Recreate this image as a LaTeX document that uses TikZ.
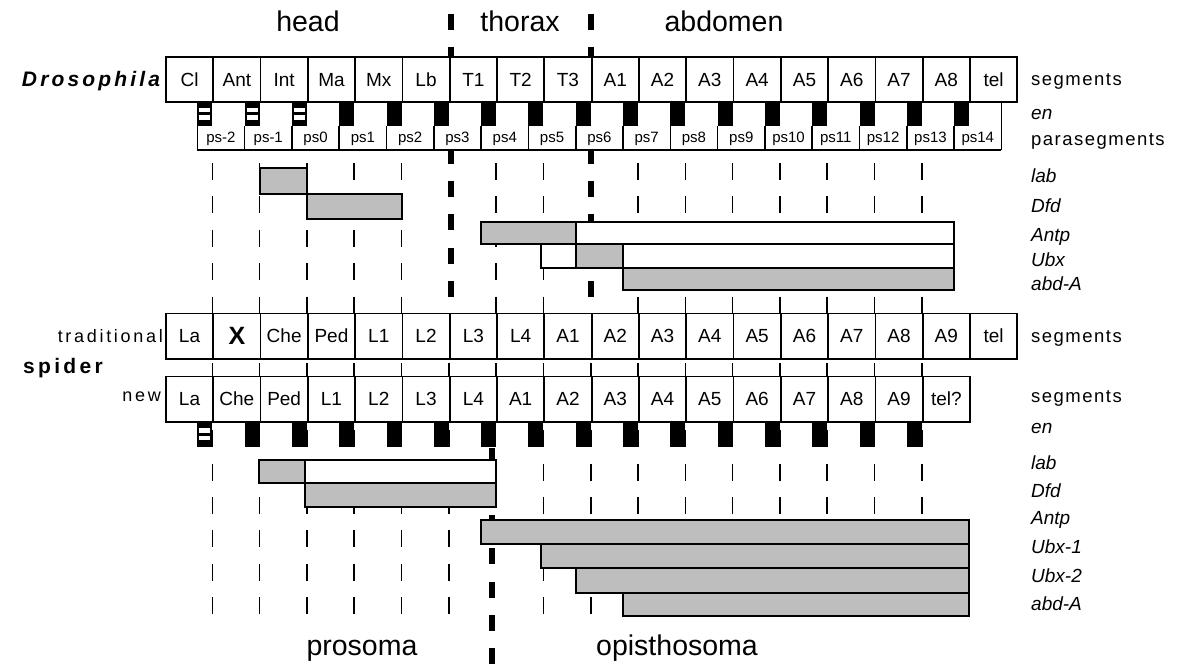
\documentclass[tikz,border=0pt]{standalone}
\usepackage{fontspec}
\setmainfont{Liberation Sans}
\newfontfamily\spacedfont[LetterSpace=15]{Liberation Sans}
\newfontfamily\rfont[LetterSpace=8]{Liberation Sans}
\newfontfamily\widefont[LetterSpace=16]{Liberation Sans}
\newfontfamily\drosfont[LetterSpace=15]{Liberation Sans}
\definecolor{stip}{RGB}{190,190,190}
\begin{document}
\begin{tikzpicture}[x=1pt,y=-1pt,
  segbox/.style={draw,line width=1.8pt,fill=white,minimum width=47.3pt,minimum height=45.5pt,inner sep=0pt,anchor=north west,font=\fontsize{19}{19}\selectfont},
  thindash/.style={line width=1.6pt,dash pattern=on 17pt off 16.4pt},
  thickdash/.style={line width=6pt,dash pattern=on 16pt off 17.4pt},
  bar/.style={draw,line width=1.8pt,fill=stip},
  wbar/.style={draw,line width=1.8pt,fill=white},
  rlab/.style={anchor=base west,inner sep=0pt,font=\rfont\fontsize{18.5}{18.5}\selectfont},
  glab/.style={anchor=base west,inner sep=0pt,font=\fontsize{19}{19}\selectfont\itshape},
  title/.style={anchor=base,inner sep=0pt,font=\fontsize{28.5}{28.5}\selectfont},
  pslab/.style={inner sep=0pt,font=\fontsize{15}{15}\selectfont},
  psline/.style={line width=1.6pt},
]
\useasboundingbox (0,0) rectangle (1177,666);

% ---------- thin dashed segment-boundary lines ----------
\foreach \i in {1,2,3,4,5,8,10,11,12,13,14,15,16}{
  \pgfmathsetmacro\xx{165+47.3*\i}
  \draw[thindash] (\xx,163) -- (\xx,614);
}
\foreach \i in {6,9}{
  \pgfmathsetmacro\xx{165+47.3*\i}
  \draw[thindash] (\xx,330) -- (\xx,614);
}
\draw[thindash] (496.1,163) -- (496.1,380);

% ---------- thick dashed region boundaries ----------
\draw[thickdash] (451,14) -- (451,312);
\draw[thickdash] (591,14) -- (591,312);
\draw[thickdash] (492,448) -- (492,666);

% ---------- Drosophila ----------
\fill[white] (197.3,101) rectangle (1001.4,150);
\foreach \t [count=\i from 0] in {Cl,Ant,Int,Ma,Mx,Lb,T1,T2,T3,A1,A2,A3,A4,A5,A6,A7,A8,tel}{
  \node[segbox] (d\i) at ({165+47.3*\i},56) {\t};
}
% engrailed stripes
\foreach \i in {1,2,3}{
  \pgfmathsetmacro\xr{165+47.3*\i}
  \fill ({\xr-15},101) rectangle (\xr,126);
  \fill[white] ({\xr-13},108) rectangle ({\xr-2},112.5);
  \fill[white] ({\xr-13},115.5) rectangle ({\xr-2},120);
}
\foreach \i in {4,...,17}{
  \pgfmathsetmacro\xr{165+47.3*\i}
  \fill ({\xr-15},101) rectangle (\xr,126);
}
% parasegments
\foreach \i in {1,...,17}{
  \pgfmathsetmacro\xl{165+47.3*\i-15}
  \draw[psline] (\xl,126) -- (\xl,150);
  \pgfmathtruncatemacro\num{\i-3}
  \node[pslab] (ps\i) at ({\xl+23.65},139) {ps\num};
}
\draw[psline] (1001.4,101) -- (1001.4,150);
\draw[psline] (197.3,150) -- (1001.4,150);

% Drosophila expression bars
\draw[bar] (260,168) rectangle (307,194);
\draw[bar] (307,194) rectangle (402,219);
\draw[bar] (481,222) rectangle (576,244);
\draw[wbar] (576,222) rectangle (954,244);
\draw[wbar] (541,244) rectangle (576,268);
\draw[bar] (576,244) rectangle (623,268);
\draw[wbar] (623,244) rectangle (954,268);
\draw[bar] (623,268) rectangle (954,290);

% ---------- spider rows ----------
\foreach \t [count=\i from 0] in {La,{\fontsize{25}{25}\selectfont\bfseries X},Che,Ped,L1,L2,L3,L4,A1,A2,A3,A4,A5,A6,A7,A8,A9,tel}{
  \node[segbox] (t\i) at ({165+47.3*\i},312.5) {\t};
}
\foreach \t [count=\i from 0] in {La,Che,Ped,L1,L2,L3,L4,A1,A2,A3,A4,A5,A6,A7,A8,A9,tel?}{
  \node[segbox] (n\i) at ({165+47.3*\i},375.5) {\t};
}
\pgfmathsetmacro\xr{165+47.3}
\fill ({\xr-15},421) rectangle (\xr,447);
\fill[white] ({\xr-13},428) rectangle ({\xr-2},432.5);
\fill[white] ({\xr-13},435.5) rectangle ({\xr-2},440);
\foreach \i in {2,...,16}{
  \pgfmathsetmacro\xr{165+47.3*\i}
  \fill ({\xr-15},421) rectangle (\xr,447);
}

% spider expression bars
\draw[bar] (259,460) rectangle (305,483);
\draw[wbar] (305,460) rectangle (496,483);
\draw[bar] (305,483) rectangle (496,507);
\draw[bar] (481,520) rectangle (969,544);
\draw[bar] (541,544) rectangle (969,568);
\draw[bar] (576,568) rectangle (969,593);
\draw[bar] (623,593) rectangle (969,616);

% ---------- titles ----------
\node[title] (head) at (308,32) {head};
\node[title] (thorax) at (520,32) {thorax};
\node[title] (abdomen) at (724,32) {abdomen};
\node[title] (prosoma) at (362,655) {prosoma};
\node[title] (opis) at (677,655) {opisthosoma};

% ---------- left labels ----------
\node[anchor=base,inner sep=0pt,font=\drosfont\fontsize{21}{21}\selectfont\bfseries\itshape] (dros) at (91,87) {Drosophila};
\node[anchor=base,inner sep=0pt,font=\widefont\fontsize{21}{21}\selectfont\bfseries] (spider) at (63,373) {spider};
\node[anchor=base east,inner sep=0pt,font=\spacedfont\fontsize{18}{18}\selectfont] (trad) at (163,342) {traditional};
\node[anchor=base east,inner sep=0pt,font=\spacedfont\fontsize{18}{18}\selectfont] (new) at (161,401) {new};

% ---------- right labels ----------
\node[rlab] (r1) at (1031,86) {segments};
\node[glab] (r2) at (1031,120) {en};
\node[rlab] (r3) at (1031,145) {parasegments};
\node[glab] (r4) at (1031,182) {lab};
\node[glab] (r5) at (1031,212) {Dfd};
\node[glab] (r6) at (1031,241) {Antp};
\node[glab] (r7) at (1031,266) {Ubx};
\node[glab] (r8) at (1031,290) {abd-A};
\node[rlab] (s1) at (1031,342) {segments};
\node[rlab] (s2) at (1031,402) {segments};
\node[glab] (s3) at (1031,433) {en};
\node[glab] (s4) at (1031,469) {lab};
\node[glab] (s5) at (1031,497) {Dfd};
\node[glab] (s6) at (1031,524) {Antp};
\node[glab] (s7) at (1031,553) {Ubx-1};
\node[glab] (s8) at (1031,582) {Ubx-2};
\node[glab] (s9) at (1031,610) {abd-A};
\end{tikzpicture}
\end{document}
